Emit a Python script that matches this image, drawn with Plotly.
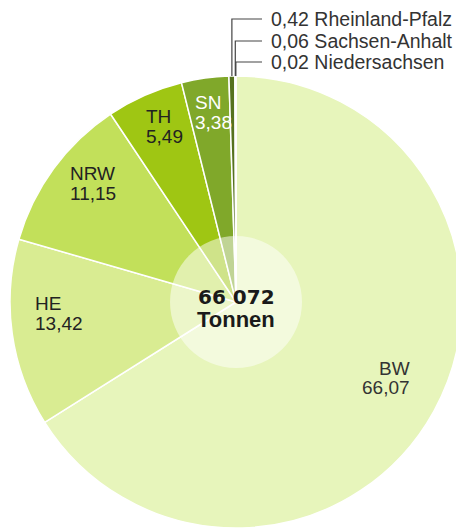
import math
import plotly.graph_objects as go

# ---------------- data ----------------
states = ["BW", "HE", "NRW", "TH", "SN", "Rheinland-Pfalz", "Sachsen-Anhalt", "Niedersachsen"]
shares = [66.07, 13.42, 11.15, 5.49, 3.38, 0.42, 0.06, 0.02]
share_labels = ["66,07", "13,42", "11,15", "5,49", "3,38", "0,42", "0,06", "0,02"]
total_label = "66 072"
unit_label = "Tonnen"

# ---------------- style ----------------
colors = ["#E7F5BB", "#D9EC92", "#C2E05A", "#9FC613", "#80A82A", "#56721E", "#7E9E2E", "#A9C958"]
FONT = "Liberation Sans, Arial, sans-serif"

W, H = 462, 528
CX, CY, R = 236, 302, 226
INNER_R = 66

n_inside = 5
# label anchor: radius fraction and angle offset (deg) relative to slice middle
label_r = [0.848, 0.90, 0.91, 0.877, 0.86]
label_dtheta = [-5.5, 4.8, -1.0, -3.9, -5.0]
label_anchor = ["right", "left", "left", "left", "left"]
label_color = ["#333333", "#222222", "#222222", "#222222", "#FFFFFF"]
LABEL_SIZE = 19
LINE_GAP = 19.5
callout_y = [19, 41, 62]
callout_x_line_end = 262
callout_x_text = 269


def fx(px):
    return px / W


def fy(py):
    return 1 - py / H


fig = go.Figure()
fig.add_trace(go.Pie(
    values=shares, labels=states, sort=False, direction="clockwise", rotation=0,
    marker=dict(colors=colors, line=dict(color="white", width=1.5)),
    textinfo="none", hoverinfo="label+value", showlegend=False,
    domain=dict(x=[fx(CX - R), fx(CX + R)], y=[fy(CY + R), fy(CY - R)]),
))
fig.add_trace(go.Pie(
    values=[1], labels=["inner"], sort=False,
    marker=dict(colors=["rgba(255,255,255,0.5)"], line=dict(width=0)),
    textinfo="none", hoverinfo="skip", showlegend=False,
    domain=dict(x=[fx(CX - INNER_R), fx(CX + INNER_R)], y=[fy(CY + INNER_R), fy(CY - INNER_R)]),
))

total = sum(shares)
mids = []
cum = 0.0
for v in shares:
    mids.append((cum + v / 2) / total * 360.0)
    cum += v

annotations = []
shapes = []
for i in range(n_inside):
    th = math.radians(mids[i] + label_dtheta[i])
    px = CX + label_r[i] * R * math.sin(th)
    py = CY - label_r[i] * R * math.cos(th)
    for line_text, dy in ((states[i], -LINE_GAP / 2), (share_labels[i], LINE_GAP / 2)):
        annotations.append(dict(
            x=fx(px), y=fy(py + dy), xref="paper", yref="paper", showarrow=False,
            text=line_text, xanchor=label_anchor[i], yanchor="middle",
            font=dict(family=FONT, size=LABEL_SIZE, color=label_color[i]),
        ))

for k, i in enumerate(range(n_inside, len(states))):
    th = math.radians(mids[i])
    x0 = CX + R * math.sin(th)
    y0 = CY - R * math.cos(th)
    ty = callout_y[k]
    shapes.append(dict(
        type="path", xref="paper", yref="paper",
        path=f"M {fx(x0)},{fy(y0)} L {fx(x0)},{fy(ty)} L {fx(callout_x_line_end)},{fy(ty)}",
        line=dict(color="#444444", width=1.2),
    ))
    annotations.append(dict(
        x=fx(callout_x_text), y=fy(ty), xref="paper", yref="paper", showarrow=False,
        text=f"{share_labels[i]} {states[i]}", xanchor="left", yanchor="middle",
        font=dict(family=FONT, size=19.5, color="#333333"),
    ))

annotations.append(dict(
    x=fx(CX), y=fy(297), xref="paper", yref="paper", showarrow=False,
    text=f"<b>{total_label}</b>", xanchor="center", yanchor="middle",
    font=dict(family="DejaVu Sans, sans-serif", size=20, color="#1A1A1A"),
))
annotations.append(dict(
    x=fx(CX), y=fy(319), xref="paper", yref="paper", showarrow=False,
    text=f"<b>{unit_label}</b>", xanchor="center", yanchor="middle",
    font=dict(family=FONT, size=22, color="#1A1A1A"),
))

fig.update_layout(
    width=W, height=H, margin=dict(l=0, r=0, t=0, b=0, pad=0),
    paper_bgcolor="white", plot_bgcolor="white",
    annotations=annotations, shapes=shapes, showlegend=False,
)

fig.write_html(
    "out.html",
    config={"displayModeBar": False},
    post_script="document.body.style.margin='0';document.body.style.overflow='hidden';document.documentElement.style.overflow='hidden';",
)
